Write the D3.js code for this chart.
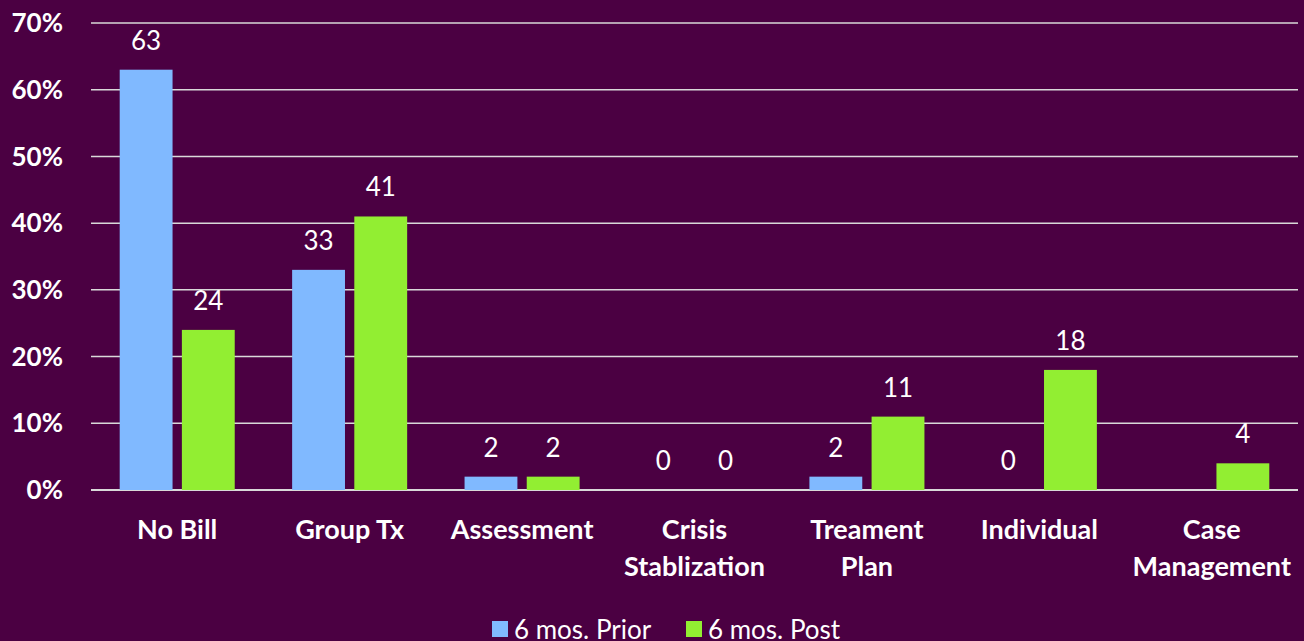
<!doctype html>
<html>
<head>
<meta charset="utf-8">
<title>Billing categories</title>
<script src="https://d3js.org/d3.v7.min.js"></script>
<style>
  html, body { margin: 0; padding: 0; background: #4b0042; }
  svg { display: block; font-family: Lato, "Open Sans", sans-serif; }
</style>
</head>
<body>
<svg width="1304" height="641"></svg>
<script>
var categories = [["No Bill"], ["Group Tx"], ["Assessment"], ["Crisis", "Stablization"],
                  ["Treament", "Plan"], ["Individual"], ["Case", "Management"]];
var prior = [63, 33, 2, 0, 2, 0, null];
var post = [24, 41, 2, 0, 11, 18, 4];
var seriesNames = ["6 mos. Prior", "6 mos. Post"];
var yTicks = [0, 10, 20, 30, 40, 50, 60, 70];

var colors = ["#80b9ff", "#92ee32"];

var svg = d3.select("svg");
var plotLeft = 91, plotRight = 1298, plotTop = 23, plotBottom = 490;

var x = d3.scaleBand()
  .domain(d3.range(categories.length))
  .range([plotLeft, plotRight]);

var x1 = d3.scaleBand()
  .domain([0, 1])
  .range([28.7, x.bandwidth() - 28.7])
  .paddingInner(0.15);

var y = d3.scaleLinear().domain([0, 70]).range([plotBottom, plotTop]);

// gridlines
svg.append("g").selectAll("line")
  .data(yTicks)
  .enter().append("line")
  .attr("x1", plotLeft).attr("x2", plotRight)
  .attr("y1", function(d) { return y(d); })
  .attr("y2", function(d) { return y(d); })
  .attr("stroke", "#d9d9d9")
  .attr("stroke-width", function(d) { return d === 0 ? 2 : 1.5; });

// y axis labels
svg.append("g").selectAll("text")
  .data(yTicks)
  .enter().append("text")
  .attr("x", 63).attr("y", function(d) { return y(d); })
  .attr("dy", "0.35em")
  .attr("text-anchor", "end")
  .attr("fill", "#fff")
  .attr("font-weight", "bold")
  .attr("font-size", 26)
  .text(function(d) { return d + "%"; });

var series = [prior, post];

series.forEach(function(vals, s) {
  var g = svg.append("g");
  var items = vals.map(function(v, i) { return { i: i, v: v }; })
    .filter(function(d) { return d.v !== null; });

  g.selectAll("rect")
    .data(items)
    .enter().append("rect")
    .attr("x", function(d) { return x(d.i) + x1(s); })
    .attr("width", x1.bandwidth())
    .attr("y", function(d) { return y(d.v); })
    .attr("height", function(d) { return plotBottom - y(d.v); })
    .attr("fill", colors[s]);

  g.selectAll("text")
    .data(items)
    .enter().append("text")
    .attr("x", function(d) { return x(d.i) + x1(s) + x1.bandwidth() / 2; })
    .attr("y", function(d) { return y(d.v) - 20; })
    .attr("text-anchor", "middle")
    .attr("fill", "#fff")
    .attr("font-size", 26)
    .text(function(d) { return d.v; });
});

// category labels
var cat = svg.append("g").selectAll("text")
  .data(categories)
  .enter().append("text")
  .attr("x", function(d, i) { return x(i) + x.bandwidth() / 2; })
  .attr("y", 539)
  .attr("text-anchor", "middle")
  .attr("fill", "#fff")
  .attr("font-weight", "bold")
  .attr("font-size", 27);

cat.selectAll("tspan")
  .data(function(d) { return d; })
  .enter().append("tspan")
  .attr("x", function() { return d3.select(this.parentNode).attr("x"); })
  .attr("dy", function(d, i) { return i === 0 ? 0 : 37; })
  .text(function(d) { return d; });

// legend
var legendX = [492, 686];
var legend = svg.append("g").selectAll("g")
  .data(seriesNames)
  .enter().append("g")
  .attr("transform", function(d, i) { return "translate(" + legendX[i] + ",621)"; });

legend.append("rect")
  .attr("width", 16).attr("height", 16)
  .attr("fill", function(d, i) { return colors[i]; });

legend.append("text")
  .attr("x", 22).attr("y", 8)
  .attr("dy", "0.38em")
  .attr("fill", "#fff")
  .attr("font-size", 26)
  .text(function(d) { return d; });
</script>
</body>
</html>
